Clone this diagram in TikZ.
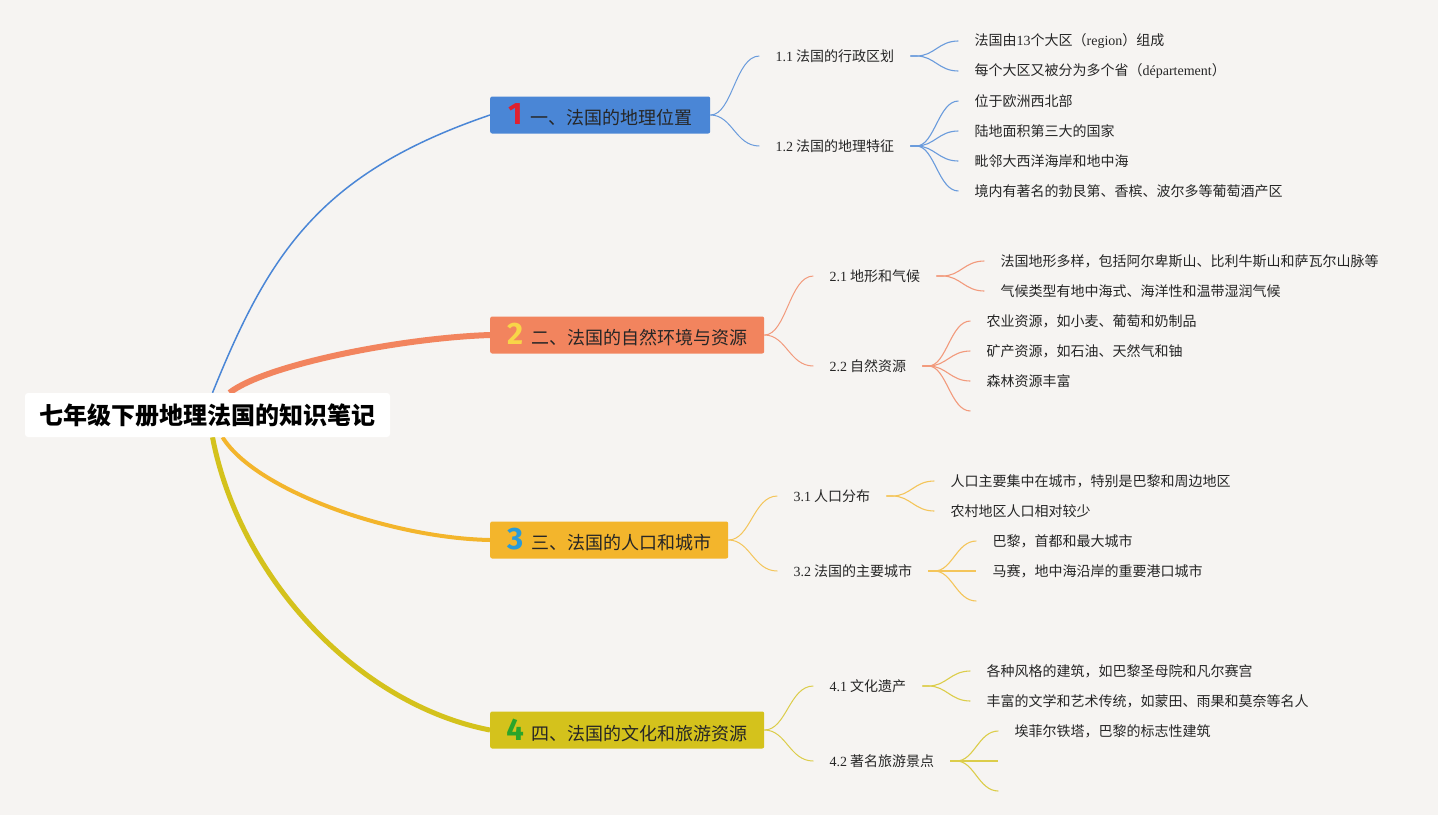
\documentclass[tikz,border=0pt]{standalone}
\usepackage{fontspec}
\setmainfont{Noto Sans CJK SC}
\newfontfamily\lat{Liberation Serif}
\newfontfamily\numf{Fira Sans}
\usetikzlibrary{calc}
\definecolor{bgc}{HTML}{F6F4F2}
\definecolor{cA}{HTML}{4A86D6}
\definecolor{cB}{HTML}{F2845E}
\definecolor{cC}{HTML}{F3B52C}
\definecolor{cD}{HTML}{D4C21C}
\definecolor{lA}{HTML}{6A9BDC}
\definecolor{lB}{HTML}{F29A7C}
\definecolor{lC}{HTML}{F4C55A}
\definecolor{lD}{HTML}{DCCD4A}
\definecolor{nA}{HTML}{E0202F}
\definecolor{nB}{HTML}{F8D548}
\definecolor{nC}{HTML}{2A9BD8}
\definecolor{nD}{HTML}{2AA52A}
\definecolor{txt}{HTML}{262626}
\pgfdeclarelayer{back}
\pgfdeclarelayer{edges}
\pgfsetlayers{back,edges,main}
\newcommand{\numb}[2]{{\numf\bfseries\fontsize{31}{31}\selectfont\color{#1}#2}\hspace{8pt}}
\begin{document}
\begin{tikzpicture}[x=1pt,y=-1pt,
  rootbox/.style={fill=white, rounded corners=3pt, minimum width=365, minimum height=44, inner sep=0,
     font=\fontsize{24}{28}\selectfont\bfseries, text=black},
  branchbox/.style={rounded corners=2pt, minimum height=37, inner sep=0, anchor=west,
     font=\fontsize{18}{20}\selectfont, text=txt},
  subbox/.style={anchor=west, inner xsep=16, inner ysep=2, font=\fontsize{14}{16}\selectfont, text=txt},
  leafbox/.style={anchor=west, inner xsep=16, inner ysep=2, font=\fontsize{14}{16}\selectfont, text=txt},
  thin/.style={line width=1pt},
  fan/.style={line width=1.1pt}
]
\begin{pgfonlayer}{back}
\fill[bgc] (0,0) rectangle (1438,815);
\end{pgfonlayer}
\useasboundingbox (0,0) rectangle (1438,815);

% root
\node[rootbox] (root) at (207.5,415) {七年级下册地理法国的知识笔记};

% branches
\node[branchbox, fill=cA, minimum width=220] (b1) at (490,115) {\numb{nA}{1}一、法国的地理位置};
\node[branchbox, fill=cB, minimum width=274] (b2) at (490,335) {\numb{nB}{2}二、法国的自然环境与资源};
\node[branchbox, fill=cC, minimum width=238] (b3) at (490,540) {\numb{nC}{3}三、法国的人口和城市};
\node[branchbox, fill=cD, minimum width=274] (b4) at (490,730) {\numb{nD}{4}四、法国的文化和旅游资源};

% sub topics
\node[subbox] (s11) at ($(b1.east)+(49,-59)$) {{\lat 1.1} 法国的行政区划};
\node[subbox] (s12) at ($(b1.east)+(49,31)$) {{\lat 1.2} 法国的地理特征};
\node[subbox] (s21) at ($(b2.east)+(49,-59)$) {{\lat 2.1} 地形和气候};
\node[subbox] (s22) at ($(b2.east)+(49,31)$) {{\lat 2.2} 自然资源};
\node[subbox] (s31) at ($(b3.east)+(49,-44)$) {{\lat 3.1} 人口分布};
\node[subbox] (s32) at ($(b3.east)+(49,31)$) {{\lat 3.2} 法国的主要城市};
\node[subbox] (s41) at ($(b4.east)+(49,-44)$) {{\lat 4.1} 文化遗产};
\node[subbox] (s42) at ($(b4.east)+(49,31)$) {{\lat 4.2} 著名旅游景点};

% leaves
\node[leafbox] (l11a) at ($(s11.east)+(48,-15)$) {法国由{\lat 13}个大区（{\lat region}）组成};
\node[leafbox] (l11b) at ($(s11.east)+(48,15)$) {每个大区又被分为多个省（{\lat département}）};
\node[leafbox] (l12a) at ($(s12.east)+(48,-45)$) {位于欧洲西北部};
\node[leafbox] (l12b) at ($(s12.east)+(48,-15)$) {陆地面积第三大的国家};
\node[leafbox] (l12c) at ($(s12.east)+(48,15)$) {毗邻大西洋海岸和地中海};
\node[leafbox] (l12d) at ($(s12.east)+(48,45)$) {境内有著名的勃艮第、香槟、波尔多等葡萄酒产区};

\node[leafbox] (l21a) at ($(s21.east)+(48,-15)$) {法国地形多样，包括阿尔卑斯山、比利牛斯山和萨瓦尔山脉等};
\node[leafbox] (l21b) at ($(s21.east)+(48,15)$) {气候类型有地中海式、海洋性和温带湿润气候};
\node[leafbox] (l22a) at ($(s22.east)+(48,-45)$) {农业资源，如小麦、葡萄和奶制品};
\node[leafbox] (l22b) at ($(s22.east)+(48,-15)$) {矿产资源，如石油、天然气和铀};
\node[leafbox] (l22c) at ($(s22.east)+(48,15)$) {森林资源丰富};
\coordinate (l22d) at ($(s22.east)+(48,45)$);

\node[leafbox] (l31a) at ($(s31.east)+(48,-15)$) {人口主要集中在城市，特别是巴黎和周边地区};
\node[leafbox] (l31b) at ($(s31.east)+(48,15)$) {农村地区人口相对较少};
\node[leafbox] (l32a) at ($(s32.east)+(48,-30)$) {巴黎，首都和最大城市};
\node[leafbox] (l32b) at ($(s32.east)+(48,0)$) {马赛，地中海沿岸的重要港口城市};
\coordinate (l32c) at ($(s32.east)+(48,30)$);

\node[leafbox] (l41a) at ($(s41.east)+(48,-15)$) {各种风格的建筑，如巴黎圣母院和凡尔赛宫};
\node[leafbox] (l41b) at ($(s41.east)+(48,15)$) {丰富的文学和艺术传统，如蒙田、雨果和莫奈等名人};
\node[leafbox] (l42a) at ($(s42.east)+(48,-30)$) {埃菲尔铁塔，巴黎的标志性建筑};
\coordinate (l42b) at ($(s42.east)+(48,0)$);
\coordinate (l42c) at ($(s42.east)+(48,30)$);

\begin{pgfonlayer}{edges}
% root to branches
\draw[cA, line width=1.5pt] ($(root.north)+(5,0)$) .. controls (269,253) and (320,173) .. (b1.west);
\draw[cB, line width=6pt] ($(root.north)+(22,0)$) .. controls (265,365) and (400,338) .. (b2.west);
\draw[cC, line width=4pt] ($(root.south)+(15,0)$) .. controls (255,490) and (390,538) .. (b3.west);
\draw[cD, line width=5pt] ($(root.south)+(5,0)$) .. controls (240,580) and (360,705) .. (b4.west);

% branch to sub
\foreach \b/\s/\c in {b1/s11/lA, b1/s12/lA, b2/s21/lB, b2/s22/lB, b3/s31/lC, b3/s32/lC, b4/s41/lD, b4/s42/lD}{
  \draw[\c, thin] (\b.east) .. controls +(22,0) and +(-24,0) .. (\s.west);
}
% sub to leaves
\foreach \s/\l/\c in {s11/l11a/lA, s11/l11b/lA, s12/l12a/lA, s12/l12b/lA, s12/l12c/lA, s12/l12d/lA,
  s21/l21a/lB, s21/l21b/lB, s22/l22a/lB, s22/l22b/lB, s22/l22c/lB,
  s31/l31a/lC, s31/l31b/lC, s32/l32a/lC, s32/l32b/lC,
  s41/l41a/lD, s41/l41b/lD, s42/l42a/lD}{
  \draw[\c, fan] (\s.east) -- ++(6,0) .. controls +(18,0) and +(-20,0) .. (\l.west);
}
\foreach \s/\l/\c in {s22/l22d/lB, s32/l32c/lC, s42/l42b/lD, s42/l42c/lD}{
  \draw[\c, fan] (\s.east) -- ++(6,0) .. controls +(18,0) and +(-20,0) .. (\l);
}
\end{pgfonlayer}
\end{tikzpicture}
\end{document}
